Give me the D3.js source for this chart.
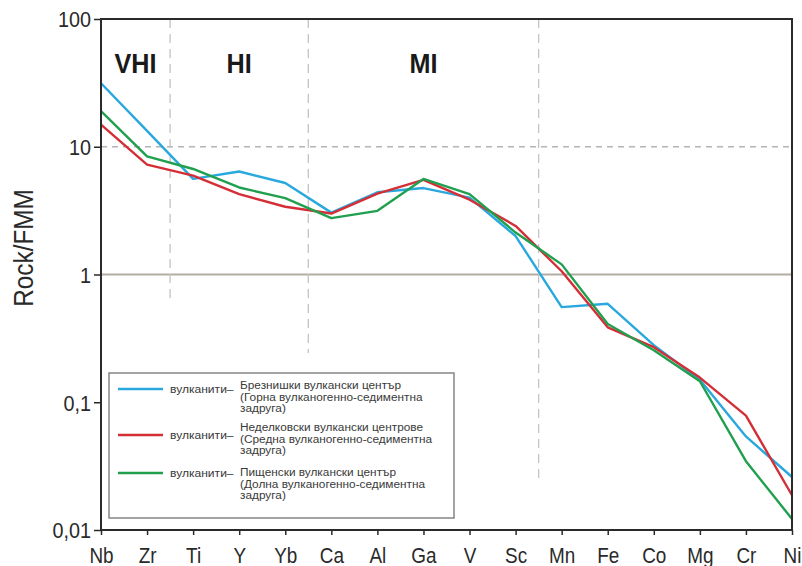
<!DOCTYPE html>
<html>
<head>
<meta charset="utf-8">
<script src="https://cdn.jsdelivr.net/npm/d3@7"></script>
<style>
  html, body { margin: 0; padding: 0; background: #fff; }
  svg { display: block; font-family: "Liberation Sans", Arial, sans-serif; }
</style>
</head>
<body>
<svg id="chart" width="802" height="566"></svg>
<script>
// Elements along the x axis
const elements = ["Nb","Zr","Ti","Y","Yb","Ca","Al","Ga","V","Sc","Mn","Fe","Co","Mg","Cr","Ni"];

// Rock/FMM ratios per volcanic group
const breznik   = [31.4, 13.3, 5.6, 6.4, 5.2, 3.05, 4.4, 4.75, 4.0, 2.0, 0.555, 0.59, 0.28, 0.15, 0.054, 0.026];
const nedelkovo = [14.9, 7.25, 5.94, 4.26, 3.39, 3.0, 4.3, 5.5, 3.85, 2.4, 1.06, 0.386, 0.27, 0.156, 0.0785, 0.0187];
const pishtene  = [19.0, 8.4, 6.7, 4.8, 3.96, 2.76, 3.15, 5.6, 4.26, 2.13, 1.2, 0.41, 0.255, 0.146, 0.0346, 0.0122];

const yTicks = [0.01, 0.1, 1, 10, 100];

// Group dividers: placed after the named element, running down to the given ratio
const dividerAfter = ["Zr", "Yb", "Sc"];
const dividerEnd   = [0.63, 0.243, 0.0255];
const groupLabels  = ["VHI", "HI", "MI"];

const seriesNames = ["breznik", "nedelkovo", "pishtene"];
const seriesColors = ["#29a8de", "#d42e36", "#20a04f"];
const legendTitle = "вулканити–";
const legendLines = [
  ["Брезнишки вулкански център", "(Горна вулканогенно-седиментна", "задруга)"],
  ["Неделковски вулкански центрове", "(Средна вулканогенно-седиментна", "задруга)"],
  ["Пищенски вулкански център", "(Долна вулканогенно-седиментна", "задруга)"]
];

const seriesValues = [breznik, nedelkovo, pishtene];

const svg = d3.select("#chart");
const plotLeft = 101, plotRight = 792, plotTop = 19, plotBottom = 530;
const ink = "#2a2a2a";

const x = d3.scalePoint().domain(elements).range([plotLeft, plotRight]);
const y = d3.scaleLog().domain([0.01, 100]).range([plotBottom, plotTop]);

const locale = d3.formatLocale({decimal: ",", thousands: " ", grouping: [3], currency: ["", ""]});
const fmt = locale.format("~g");

// Reference line at 10 (dashed)
svg.append("line")
  .attr("x1", plotLeft).attr("x2", plotRight)
  .attr("y1", y(10)).attr("y2", y(10))
  .attr("stroke", "#b4b4b4").attr("stroke-width", 1.3)
  .attr("stroke-dasharray", "6,5");

// Reference line at 1 (solid)
svg.append("line")
  .attr("x1", plotLeft).attr("x2", plotRight)
  .attr("y1", y(1)).attr("y2", y(1))
  .attr("stroke", "#b3aca2").attr("stroke-width", 2);

// Group dividers
const step = x.step();
const divX = dividerAfter.map(e => x(e) + step / 2);
svg.selectAll("line.div").data(dividerAfter).join("line")
  .attr("class", "div")
  .attr("x1", (d, i) => divX[i]).attr("x2", (d, i) => divX[i])
  .attr("y1", plotTop).attr("y2", (d, i) => y(dividerEnd[i]))
  .attr("stroke", "#c4c4c4").attr("stroke-width", 1.3)
  .attr("stroke-dasharray", "9,6");

// Group labels centered between dividers
const bounds = [plotLeft, ...divX];
svg.selectAll("text.grp").data(groupLabels).join("text")
  .attr("class", "grp")
  .attr("transform", (d, i) => `translate(${(bounds[i] + bounds[i + 1]) / 2},73) scale(0.9,1)`)
  .attr("text-anchor", "middle")
  .attr("font-size", 28).attr("font-weight", "bold")
  .attr("fill", "#1a1a1a")
  .text(d => d);

// Series lines
const line = d3.line().x((d, i) => x(elements[i])).y(d => y(d));
svg.selectAll("path.series").data(seriesValues).join("path")
  .attr("class", "series")
  .attr("d", line)
  .attr("fill", "none")
  .attr("stroke", (d, i) => seriesColors[i])
  .attr("stroke-width", 2.4)
  .attr("stroke-linejoin", "round");

// Frame
svg.append("rect")
  .attr("x", plotLeft).attr("y", plotTop)
  .attr("width", plotRight - plotLeft).attr("height", plotBottom - plotTop)
  .attr("fill", "none").attr("stroke", ink).attr("stroke-width", 2);

// Axes
const yAxis = svg.append("g")
  .attr("transform", `translate(${plotLeft},0)`)
  .call(d3.axisLeft(y).tickValues(yTicks).tickFormat(fmt).tickSize(7));
yAxis.select(".domain").remove();
yAxis.selectAll("line").attr("stroke", ink).attr("stroke-width", 1.5);
yAxis.selectAll("text")
  .attr("x", 0).attr("dy", "0.36em")
  .attr("transform", "translate(-10,0) scale(0.9,1)")
  .attr("font-size", 22).attr("fill", ink)
  .attr("font-family", "'Liberation Sans', Arial, sans-serif");

const xAxis = svg.append("g")
  .attr("transform", `translate(0,${plotBottom})`)
  .call(d3.axisBottom(x).tickSize(5));
xAxis.select(".domain").remove();
xAxis.selectAll("line").attr("stroke", ink).attr("stroke-width", 1.5);
xAxis.selectAll("text")
  .attr("y", 0).attr("dy", 0)
  .attr("transform", "translate(0,33) scale(0.86,1)")
  .attr("font-size", 22).attr("fill", ink)
  .attr("font-family", "'Liberation Sans', Arial, sans-serif");

// Y-axis title
svg.append("text")
  .attr("transform", "translate(33,248) rotate(-90) scale(0.9,1)")
  .attr("text-anchor", "middle")
  .attr("font-size", 27).attr("fill", ink)
  .text("Rock/FMM");

// Legend
const lg = svg.append("g");
lg.append("rect")
  .attr("x", 109).attr("y", 373).attr("width", 345).attr("height", 145)
  .attr("fill", "#fff").attr("stroke", "#858585").attr("stroke-width", 1.5);

const entryY = [389, 435, 473];
const textTop = [385, 427, 472];
seriesNames.forEach((name, i) => {
  lg.append("line")
    .attr("x1", 118).attr("x2", 163)
    .attr("y1", entryY[i]).attr("y2", entryY[i])
    .attr("stroke", seriesColors[i]).attr("stroke-width", 2.4);
  lg.append("text")
    .attr("transform", `translate(170,${entryY[i] + 4}) scale(1.05,1)`)
    .attr("font-size", 11.5).attr("fill", "#3a3a3a")
    .text(legendTitle);
  legendLines[i].forEach((s, j) => {
    lg.append("text")
      .attr("transform", `translate(240,${textTop[i] + 4 + j * 11.7}) scale(1.03,1)`)
      .attr("font-size", 11.5).attr("fill", "#3a3a3a")
      .text(s);
  });
});
</script>
</body>
</html>
